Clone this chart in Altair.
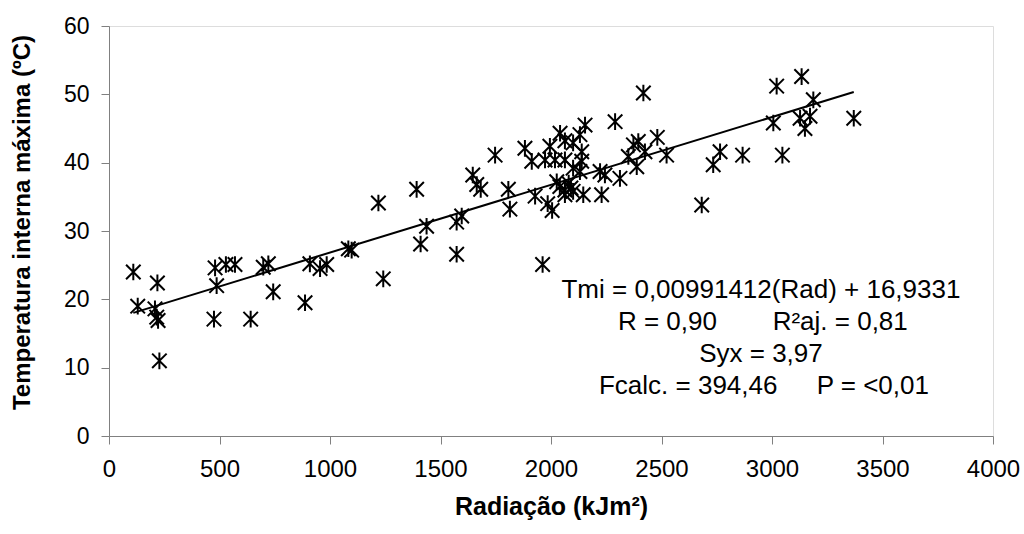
import altair as alt
import pandas as pd

# Observed points (Radiação kJm², Temperatura interna máxima ºC)
rad = [110, 130, 208, 219, 216, 222, 228,
       480, 487, 475, 529, 570, 641, 698, 721, 743, 887, 909, 955, 985,
       1083, 1098, 1219, 1241, 1392, 1437, 1410, 1573, 1596, 1573,
       1747, 1646, 1664, 1682, 1807, 1814, 1882, 1913, 1928, 1985, 2005, 1962,
       1995, 1973, 2018, 2063, 2041, 2063, 2100, 2131, 2154, 2139, 2139, 2131,
       2100, 2026, 2040, 2063, 2080, 2090, 2100, 2063, 2146, 2229, 2222, 2244,
       2312, 2290, 2350, 2373, 2395, 2388, 2418, 2425, 2481, 2523,
       2682, 2734, 2765, 2867, 3047, 3021, 3006, 3134, 3187, 3127, 3172, 3149, 3370]
tmi = [24.0, 19.0, 18.6, 22.4, 17.4, 16.9, 11.0,
       24.6, 22.0, 17.1, 25.1, 25.1, 17.1, 24.7, 25.2, 21.1, 19.5, 25.2, 24.5, 25.1,
       27.4, 27.2, 34.1, 23.0, 36.1, 30.7, 28.1, 31.3, 32.2, 26.6,
       41.1, 38.2, 36.8, 36.1, 36.1, 33.2, 42.1, 40.2, 35.1, 34.0, 33.0, 25.1,
       42.4, 40.4, 40.4, 40.4, 44.3, 43.2, 42.9, 44.1, 45.5, 41.6, 40.2, 38.7,
       39.2, 37.2, 36.5, 36.0, 37.0, 36.3, 35.8, 35.3, 35.3, 35.3, 38.7, 38.2,
       37.7, 46.0, 40.9, 42.6, 43.1, 39.4, 50.2, 41.6, 43.7, 41.1,
       33.8, 39.7, 41.6, 41.1, 41.1, 51.2, 45.8, 52.6, 49.2, 46.5, 46.8, 45.0, 46.5]

# Regression equation given in the chart
slope = 0.00991412
intercept = 16.9331

# Annotation texts and their anchor positions (data units)
ann_text = ["Tmi = 0,00991412(Rad) + 16,9331", "R = 0,90", "R²aj. = 0,81",
            "Syx = 3,97", "Fcalc. = 394,46", "P = <0,01"]
ann_x = [2950, 2303, 3003, 2950, 2217, 3202]
ann_y = [21.4, 16.7, 16.7, 12.0, 7.3, 7.3]
ann_align = ["center", "left", "left", "center", "left", "left"]

pts = pd.DataFrame({"rad": rad, "tmi": tmi})
lx = [min(rad), max(rad)]
line_df = pd.DataFrame({"rad": lx, "tmi": [slope * v + intercept for v in lx]})
ann = pd.DataFrame({"t": ann_text, "x": ann_x, "y": ann_y, "a": ann_align})

FONT = "Liberation Sans"
xs = alt.Scale(domain=[0, 4000], nice=False)
ys = alt.Scale(domain=[0, 60], nice=False)

xaxis = alt.Axis(values=list(range(0, 4001, 500)), format="d", title="Radiação (kJm²)", grid=False,
                 domainColor="#808080", tickColor="#808080", tickSize=8,
                 labelFont=FONT, labelFontSize=24, labelColor="black", labelPadding=13,
                 titleFont=FONT, titleFontSize=25, titleFontWeight="bold", titleColor="black",
                 titleBaseline="middle", titleY=70, labelFlush=False)
yaxis = alt.Axis(values=list(range(0, 61, 10)), format="d", title="Temperatura interna máxima (ºC)", grid=False,
                 domainColor="#808080", tickColor="#808080", tickSize=8,
                 labelFont=FONT, labelFontSize=23, labelColor="black", labelPadding=12,
                 titleFont=FONT, titleFontSize=24, titleFontWeight="bold", titleColor="black",
                 titleBaseline="middle", titleX=-87, titleY=196, titleAngle=270, labelFlush=False)

asterisk = "M-1,-1L1,1M-1,1L1,-1M0,-1.15L0,1.15"

points = alt.Chart(pts).mark_point(shape=asterisk, filled=False, color="black",
                                   strokeWidth=2, size=210, opacity=1).encode(
    x=alt.X("rad:Q", scale=xs, axis=xaxis),
    y=alt.Y("tmi:Q", scale=ys, axis=yaxis))

line = alt.Chart(line_df).mark_line(color="black", strokeWidth=2).encode(
    x=alt.X("rad:Q", scale=xs), y=alt.Y("tmi:Q", scale=ys))

def txt(align):
    return alt.Chart(ann).transform_filter(alt.datum.a == align).mark_text(
        font=FONT, fontSize=26, color="black", align=align, baseline="middle").encode(
        x=alt.X("x:Q", scale=xs), y=alt.Y("y:Q", scale=ys), text="t:N")

chart = alt.layer(points, line, txt("center"), txt("left")).properties(
    width=884, height=410,
    autosize=alt.AutoSizeParams(type="none"),
    padding={"left": 109, "top": 26, "right": 31, "bottom": 98},
).configure_view(stroke=None).configure(background="white")

chart.save("out.html", embed_options={"renderer": "svg", "actions": False})
